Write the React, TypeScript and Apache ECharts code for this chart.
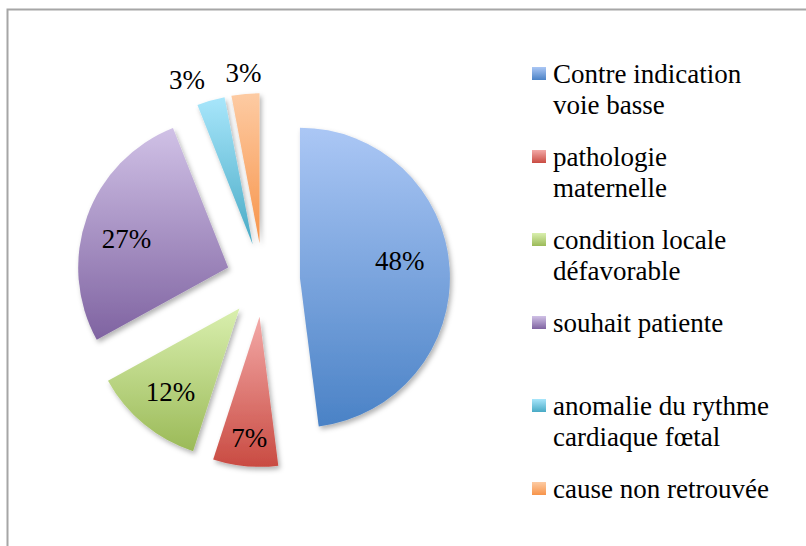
import React, { useEffect, useRef } from 'react';
import * as echarts from 'echarts';

const categories = [
  'Contre indication voie basse',
  'pathologie maternelle',
  'condition locale défavorable',
  'souhait patiente',
  'anomalie du rythme cardiaque fœtal',
  'cause non retrouvée',
];
const legendLines = [
  ['Contre indication', 'voie basse'],
  ['pathologie', 'maternelle'],
  ['condition locale', 'défavorable'],
  ['souhait patiente'],
  ['anomalie du rythme', 'cardiaque fœtal'],
  ['cause non retrouvée'],
];
const values = [48, 7, 12, 27, 3, 3];
const topColors = ['#abc7f5', '#f3a9a7', '#d9efae', '#d0c1e6', '#a8e6fb', '#fdcba3'];
const bottomColors = ['#4a82c6', '#c94b42', '#9bba58', '#7f63a1', '#48aac5', '#f7944a'];

const FONT = 'Liberation Serif';

export default function App() {
  const ref = useRef<HTMLDivElement>(null);
  useEffect(() => {
    document.body.style.margin = '0';
    const chart = echarts.init(ref.current!, undefined, { renderer: 'svg' });
    const grad = (i: number) =>
      new echarts.graphic.LinearGradient(0, 0, 0, 1, [
        { offset: 0, color: topColors[i] },
        { offset: 1, color: bottomColors[i] },
      ]);
    const center = [263, 280];
    const offset = 37;
    chart.setOption({
      animation: false,
      backgroundColor: '#ffffff',
      graphic: [
        {
          type: 'rect',
          x: 7.5,
          y: 9.5,
          shape: { x: 0, y: 0, width: 840, height: 580 },
          style: { fill: 'none', stroke: '#a6a6a6', lineWidth: 2 },
          silent: true,
          z: -10,
        },
      ],
      legend: {
        orient: 'vertical',
        left: 532,
        top: 27,
        padding: 0,
        itemWidth: 14,
        itemHeight: 13,
        itemGap: -10,
        icon: 'rect',
        selectedMode: false,
        formatter: (name: string) =>
          legendLines[categories.indexOf(name)].map((l) => `{t|${l}}`).join('\n'),
        textStyle: {
          fontFamily: FONT,
          fontSize: 27,
          lineHeight: 31,
          color: '#000',
          backgroundColor: 'rgba(0,0,0,0)',
          rich: {
            t: { fontFamily: FONT, fontSize: 27, lineHeight: 31, color: '#000' },
          },
        },
        data: categories.map((name, i) => ({
          name,
          textStyle: {
            padding: legendLines[i].length > 1 ? [31, 0, 0, 2] : [31, 0, 31, 2],
          },
        })),
      },
      series: [
        {
          type: 'pie',
          center,
          radius: 150,
          startAngle: 90,
          clockwise: true,
          selectedMode: 'multiple',
          selectedOffset: offset,
          silent: true,
          emphasis: { disabled: true },
          label: { show: false },
          labelLine: { show: false },
          itemStyle: {
            shadowBlur: 5,
            shadowOffsetX: 2,
            shadowOffsetY: 3,
            shadowColor: 'rgba(0,0,0,0.3)',
          },
          data: categories.map((name, i) => ({
            name,
            value: values[i],
            selected: true,
            itemStyle: { color: grad(i) },
          })),
        },
        {
          type: 'pie',
          center,
          radius: [60, 150],
          startAngle: 90,
          clockwise: true,
          selectedMode: 'multiple',
          selectedOffset: offset,
          silent: true,
          avoidLabelOverlap: false,
          emphasis: { disabled: true },
          itemStyle: { color: 'rgba(0,0,0,0)' },
          label: {
            show: true,
            position: 'inside',
            formatter: '{d}%',
            fontFamily: FONT,
            fontSize: 27,
            color: '#000',
          },
          labelLine: { show: false },
          labelLayout: (p: any) =>
            p.dataIndex === 5
              ? { align: 'center' }
              : p.dataIndex === 1
              ? { dy: 14 }
              : p.dataIndex === 0
              ? { dx: -8, dy: -10 }
              : p.dataIndex === 3
              ? { dy: 8 }
              : {},
          data: categories.map((name, i) => ({
            name,
            value: values[i],
            selected: true,
            label: values[i] < 5 ? { position: 'outside', distanceToLabelLine: 0 } : undefined,
            labelLine: { show: false, length: 21, length2: 0 },
          })),
        },
      ],
    });
    return () => chart.dispose();
  }, []);
  return <div ref={ref} style={{ width: 806, height: 546 }} />;
}
